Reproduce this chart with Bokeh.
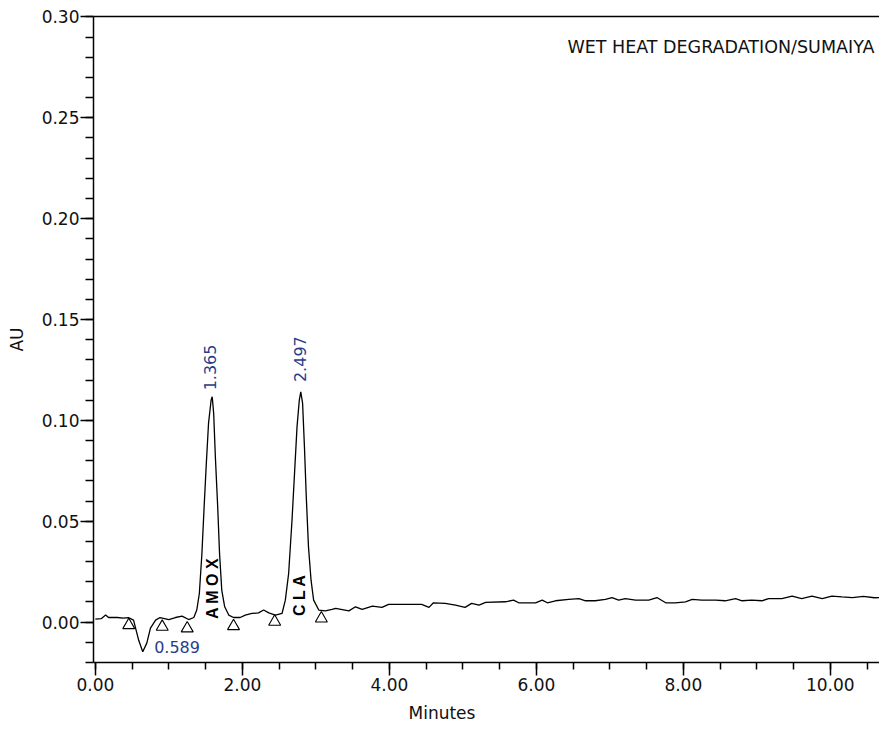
from bokeh.plotting import figure
from bokeh.models import (SingleIntervalTicker, FixedTicker, LinearAxis, Label, Title,
                          NumeralTickFormatter, Range1d)
from bokeh.embed import file_html
from bokeh.resources import INLINE

# ---- data ----
time_min = [0.00, 0.08, 0.14, 0.18, 0.30, 0.38, 0.45, 0.52, 0.59, 0.645, 0.70, 0.75,
            0.82, 0.88, 1.00, 1.09, 1.18, 1.27, 1.34, 1.38, 1.415, 1.45, 1.48, 1.51,
            1.54, 1.575, 1.59, 1.61, 1.633, 1.665, 1.69, 1.72, 1.76, 1.815, 1.88,
            1.97, 2.04, 2.13, 2.22, 2.29, 2.36, 2.45, 2.54, 2.585, 2.63, 2.676, 2.71,
            2.744, 2.775, 2.795, 2.82, 2.845, 2.87, 2.90, 2.935, 2.97, 3.04, 3.13,
            3.22, 3.27, 3.45, 3.54, 3.63, 3.77, 3.90, 3.99, 4.26, 4.44, 4.54, 4.60,
            4.76, 4.90, 5.03, 5.12, 5.22, 5.31, 5.58, 5.69, 5.76, 5.90, 5.99, 6.08,
            6.15, 6.26, 6.44, 6.58, 6.67, 6.80, 6.94, 7.03, 7.12, 7.21, 7.35, 7.53,
            7.64, 7.76, 7.89, 8.03, 8.12, 8.25, 8.44, 8.57, 8.71, 8.80, 8.93, 9.07,
            9.16, 9.34, 9.48, 9.61, 9.75, 9.89, 10.02, 10.16, 10.30, 10.45, 10.60, 10.75]
absorbance = [0.0015, 0.0017, 0.0035, 0.0023, 0.0023, 0.0020, 0.0022, 0.0010, -0.0090,
              -0.0147, -0.0104, -0.0030, 0.0010, 0.0023, 0.0013, 0.0023, 0.0030, 0.0013,
              0.0023, 0.0060, 0.0142, 0.0340, 0.0570, 0.0787, 0.0985, 0.1100, 0.1117,
              0.1035, 0.0820, 0.0570, 0.0340, 0.0159, 0.0076, 0.0035, 0.0023, 0.0023,
              0.0035, 0.0043, 0.0046, 0.0060, 0.0046, 0.0035, 0.0043, 0.0109, 0.0241,
              0.0506, 0.0737, 0.0968, 0.1100, 0.1142, 0.1084, 0.0869, 0.0621, 0.0373,
              0.0208, 0.0109, 0.0060, 0.0056, 0.0063, 0.0068, 0.0056, 0.0076, 0.0063,
              0.0079, 0.0073, 0.0088, 0.0088, 0.0088, 0.0073, 0.0096, 0.0093, 0.0084,
              0.0073, 0.0093, 0.0084, 0.0098, 0.0101, 0.0109, 0.0096, 0.0096, 0.0096,
              0.0109, 0.0096, 0.0106, 0.0113, 0.0117, 0.0106, 0.0106, 0.0113, 0.0122,
              0.0109, 0.0117, 0.0109, 0.0109, 0.0122, 0.0096, 0.0096, 0.0101, 0.0113,
              0.0109, 0.0109, 0.0106, 0.0117, 0.0106, 0.0109, 0.0106, 0.0117, 0.0117,
              0.0129, 0.0117, 0.0129, 0.0117, 0.0129, 0.0125, 0.0122, 0.0128, 0.0121,
              0.0123]

# baseline (integration) markers
marker_time = [0.455, 0.91, 1.25, 1.88, 2.44, 3.075]
marker_abs = [-0.0015, -0.0023, -0.0031, -0.0020, 0.0002, 0.0018]

# peak annotations
peak_names = ["A M O X", "C L A"]
peak_rt_labels = ["1.365", "2.497"]
dip_label = "0.589"
title_text = "WET HEAT DEGRADATION/SUMAIYA"

FONT = "DejaVu Sans"
BLUE = "#283c8c"

p = figure(width=879, height=729, output_backend="svg", toolbar_location=None,
           x_range=Range1d(-0.025, 10.669), y_range=Range1d(-0.02, 0.3002),
           min_border_left=93, min_border_right=0, min_border_top=16,
           min_border_bottom=50, background_fill_color="white",
           border_fill_color="white")
p.outline_line_color = None
p.xgrid.visible = False
p.ygrid.visible = False

p.line(time_min, absorbance, line_color="black", line_width=1.3)
p.scatter(marker_time, marker_abs, marker="triangle", size=12,
          fill_color=None, line_color="black", line_width=1.1)

# axes
xa = p.xaxis[0]
ya = p.yaxis[0]
xa.ticker = SingleIntervalTicker(interval=2, num_minor_ticks=4)
ya.ticker = SingleIntervalTicker(interval=0.05, num_minor_ticks=5)
for ax in (xa, ya):
    ax.formatter = NumeralTickFormatter(format="0.00")
    ax.axis_line_width = 1.5
    ax.axis_line_color = "black"
    ax.major_tick_line_width = 1.5
    ax.minor_tick_line_width = 1.5
    ax.major_tick_line_color = "black"
    ax.minor_tick_line_color = "black"
    ax.major_tick_in = 0
    ax.minor_tick_in = 0
    ax.major_tick_out = 13
    ax.major_label_text_font = FONT
    ax.major_label_text_font_size = "17px"
    ax.major_label_text_color = "#111111"
xa.minor_tick_out = 7
ya.minor_tick_out = 8
xa.major_label_standoff = 2
ya.major_label_standoff = 1
ya.axis_label = "AU"
ya.axis_label_text_font = FONT
ya.axis_label_text_font_size = "17px"
ya.axis_label_text_font_style = "normal"
ya.axis_label_text_color = "#111111"
ya.axis_label_standoff = 12

top = LinearAxis(ticker=FixedTicker(ticks=[]), axis_line_width=1.5,
                 axis_line_color="black", major_tick_out=0, minor_tick_out=0,
                 major_tick_in=0, minor_tick_in=0, major_label_text_font_size="0px")
p.add_layout(top, "above")

# x axis title under the axis (left-aligned with offset, as in the original)
p.add_layout(Title(text="Minutes", align="left", offset=315, standoff=14,
                   text_font=FONT, text_font_size="17px", text_font_style="normal",
                   text_color="#111111"), "below")

# chart title text
p.add_layout(Label(x=10.60, y=0.2849, text=title_text, text_align="right",
                   text_baseline="middle", text_font=FONT, text_font_size="17.5px",
                   text_color="#111111"))

# retention time labels (rotated)
p.add_layout(Label(x=1.556, y=0.1149, text=peak_rt_labels[0], angle=1.5708,
                   text_align="left", text_baseline="middle", text_font=FONT,
                   text_font_size="16px", text_color=BLUE))
p.add_layout(Label(x=2.79, y=0.1190, text=peak_rt_labels[1], angle=1.5708,
                   text_align="left", text_baseline="middle", text_font=FONT,
                   text_font_size="16px", text_color=BLUE))
p.add_layout(Label(x=0.80, y=-0.0125, text=dip_label, text_align="left",
                   text_baseline="middle", text_font=FONT, text_font_size="16px",
                   text_color=BLUE))

# peak names (rotated, bold)
p.add_layout(Label(x=1.588, y=0.0015, text=peak_names[0], angle=1.5708,
                   text_align="left", text_baseline="middle",
                   text_font="Liberation Sans", text_font_style="bold",
                   text_font_size="16px", text_color="black"))
p.add_layout(Label(x=2.78, y=0.0030, text=peak_names[1], angle=1.5708,
                   text_align="left", text_baseline="middle",
                   text_font="Liberation Sans", text_font_style="bold",
                   text_font_size="16px", text_color="black"))

open("out.html", "w").write(file_html(p, INLINE))
